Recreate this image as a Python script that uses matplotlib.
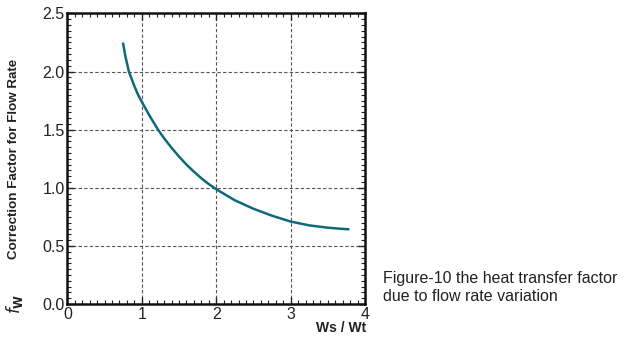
import matplotlib
matplotlib.use("Agg")
import matplotlib.pyplot as plt
from matplotlib.ticker import MultipleLocator

ratio = [0.746, 0.78, 0.826, 0.9, 0.95, 1.0, 1.03, 1.1, 1.218, 1.3, 1.4, 1.5, 1.6, 1.7, 1.8, 1.9, 2.0,
         2.25, 2.5, 2.75, 3.0, 3.25, 3.5, 3.65, 3.79]
factor = [2.25, 2.13, 2.00, 1.875, 1.80, 1.74, 1.705, 1.625, 1.50, 1.426, 1.344, 1.269, 1.20, 1.139,
          1.082, 1.032, 0.988, 0.893, 0.82, 0.76, 0.71, 0.677, 0.657, 0.649, 0.643]
x_ticks = [0, 1, 2, 3, 4]
y_ticks = [0.0, 0.5, 1.0, 1.5, 2.0, 2.5]

plt.rcParams['font.family'] = ['Liberation Sans', 'DejaVu Sans']
fig = plt.figure(figsize=(6.24, 3.44), dpi=100)
ax = fig.add_axes([0.108, 0.116, 0.477, 0.845])
ax.plot(ratio, factor, color='#0d6a78', lw=1.8, solid_capstyle='butt', solid_joinstyle='round')
ax.set_xlim(0, 4)
ax.set_ylim(0, 2.5)
ax.set_xticks(x_ticks)
ax.set_yticks(y_ticks)
ax.set_yticklabels([f"{v:.1f}" for v in y_ticks])
ax.xaxis.set_minor_locator(MultipleLocator(0.1))
ax.yaxis.set_minor_locator(MultipleLocator(0.05))
ax.tick_params(which='both', direction='in', top=True, right=True, labelsize=11.5, colors='#222222')
ax.tick_params(which='major', length=5, width=1)
ax.tick_params(which='minor', length=3, width=0.8)
ax.tick_params(axis='x', pad=2)
ax.tick_params(axis='y', pad=2)
ax.grid(True, which='major', linestyle=(0, (3, 2)), color='#555555', lw=0.8)
for s in ax.spines.values():
    s.set_linewidth(1.8)
    s.set_color('#111111')

fig.text(0.022, 0.538, 'Correction Factor for Flow Rate', rotation=90, ha='center', va='center',
         fontsize=9.6, fontweight='bold', color='#222222')
fig.text(0.024, 0.118, r'$f_{\mathbf{W}}$', rotation=90, ha='center', va='center', fontsize=12, color='#222222')
fig.text(0.587, 0.047, 'Ws / Wt', ha='right', va='center', fontsize=10, fontweight='bold', color='#222222')
fig.text(0.614, 0.164, 'Figure-10 the heat transfer factor\ndue to flow rate variation', ha='left', va='center',
         fontsize=11.5, color='#222222', linespacing=1.3)

fig.savefig('out.png', dpi=100)
